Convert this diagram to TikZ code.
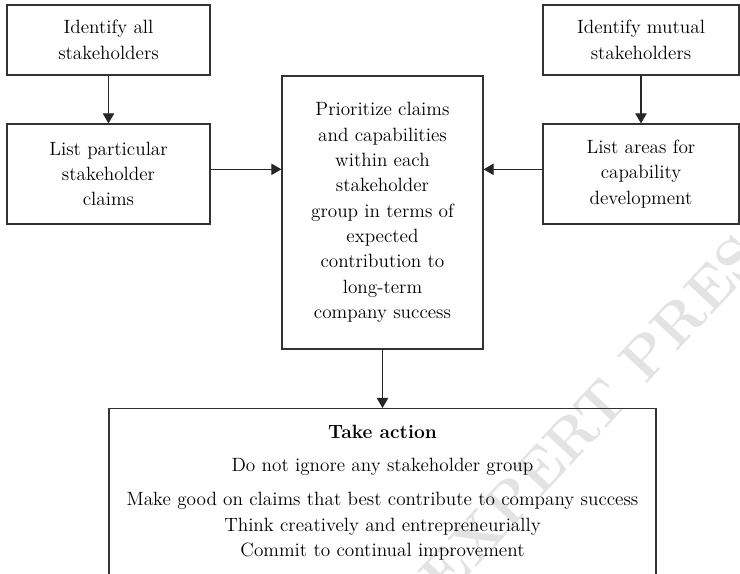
\documentclass[tikz,border=0pt]{standalone}
\usetikzlibrary{arrows.meta}
\begin{document}
\begin{tikzpicture}[
    x=0.75pt, y=-0.75pt,
    box/.style={draw=black!80, line width=0.9pt, align=center, inner sep=0pt,
                font=\fontsize{14.4}{19}\selectfont},
    line/.style={anchor=base, inner sep=0pt, font=\fontsize{14.4}{19}\selectfont},
    arr/.style={draw=black!85, line width=0.8pt,
                -{Triangle[length=7.5pt,width=8.5pt]}},
    mark text/.style={text=black!11, inner sep=0pt,
                font=\fontsize{44}{44}\selectfont\bfseries}
  ]
  \useasboundingbox (0,0) rectangle (740,574);

  % faint publisher mark behind the chart
  \node[mark text, rotate=47] (wm) at (603,402) {EXPERT PRESS};

  % left column
  \node[box, minimum width=152.25pt, minimum height=52.5pt] (idall) at (108.5,40)
    {Identify all\\stakeholders};
  \node[box, minimum width=152.25pt, minimum height=75pt] (claims) at (108.5,174)
    {List particular\\stakeholder\\claims};

  % right column
  \node[box, minimum width=147pt, minimum height=52.5pt] (idmut) at (641,40)
    {Identify mutual\\stakeholders};
  \node[box, minimum width=147pt, minimum height=75pt] (areas) at (641,174)
    {List areas for\\capability\\development};

  % central step
  \node[box, minimum width=150.75pt, minimum height=204.75pt] (prio) at (382.5,212.5)
    {Prioritize claims\\and capabilities\\within each\\stakeholder\\group in terms of\\expected\\contribution to\\long-term\\company success};

  % action box, running past the lower edge
  \node[box, minimum width=410.25pt, minimum height=150pt, anchor=north] (act) at (382.5,408) {};
  \node[line] (a0) at (382.5,438) {\bfseries Take action};
  \node[line] (a1) at (382.5,471) {Do not ignore any stakeholder group};
  \node[line] (a2) at (382.5,505) {Make good on claims that best contribute to company success};
  \node[line] (a3) at (382.5,531) {Think creatively and entrepreneurially};
  \node[line] (a4) at (382.5,556) {Commit to continual improvement};

  % connectors
  \draw[arr] (idall) -- (claims);
  \draw[arr] (idmut) -- (areas);
  \draw[arr] ([yshift=3.5pt]claims.east) -- ([yshift=3.5pt]prio.west |- claims.east);
  \draw[arr] ([yshift=3.5pt]areas.west) -- ([yshift=3.5pt]prio.east |- areas.west);
  \draw[arr] (prio) -- (act);
\end{tikzpicture}
\end{document}
